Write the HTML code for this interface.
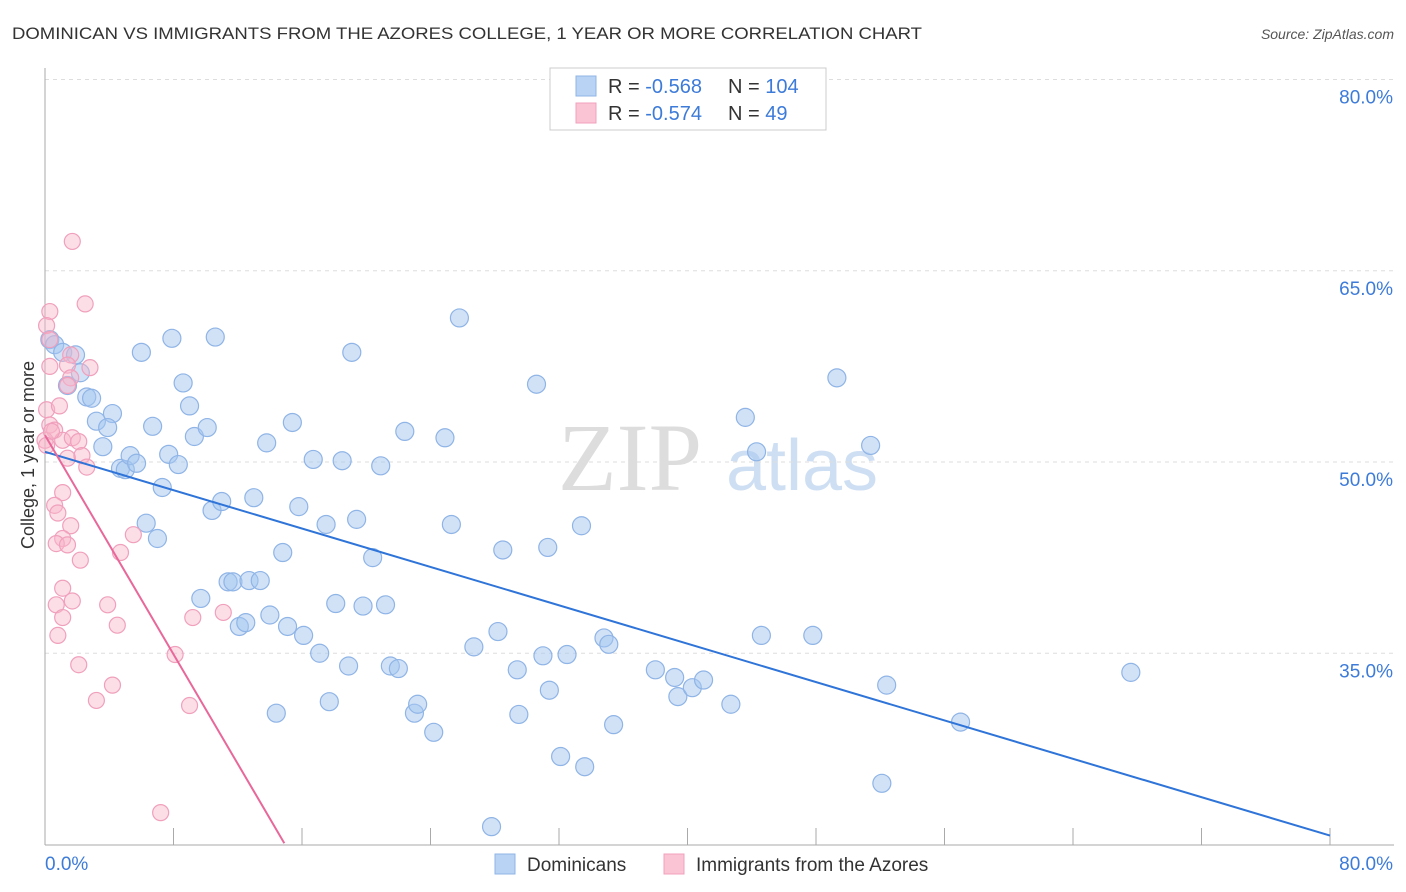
<!DOCTYPE html>
<html><head><meta charset="utf-8"><style>
body{margin:0;background:#fff;font-family:"Liberation Sans",sans-serif;}
#wrap{position:relative;width:1406px;height:892px;overflow:hidden;}
</style></head><body>
<div id="wrap">
<svg id="svg" width="1406" height="892" xmlns="http://www.w3.org/2000/svg">
<text x="12" y="39" font-size="17" fill="#333" textLength="910" lengthAdjust="spacingAndGlyphs">DOMINICAN VS IMMIGRANTS FROM THE AZORES COLLEGE, 1 YEAR OR MORE CORRELATION CHART</text>
<text x="1394" y="39" font-size="14" fill="#555" font-style="italic" text-anchor="end">Source: ZipAtlas.com</text>
<text x="630" y="490" font-size="96" fill="#ddd" font-family="Liberation Serif,serif" text-anchor="middle">ZIP</text>
<text x="802" y="490" font-size="72" fill="#cfdff3" text-anchor="middle">atlas</text>
<g id="grid"></g><g id="axes"></g><g id="pts"></g><g id="lines"></g>
<text transform="translate(34,455) rotate(-90)" font-size="18" fill="#333" text-anchor="middle">College, 1 year or more</text>
<g>
<rect x="550" y="68" width="276" height="62" fill="#fff" stroke="#ccc"/>
<rect x="576" y="76" width="20" height="20" fill="#b9d3f5" stroke="#8fb4e6"/>
<rect x="576" y="103" width="20" height="20" fill="#fac4d4" stroke="#f0a0bc"/>
<text x="608" y="93" font-size="20" fill="#333">R = <tspan fill="#3d7bd9">-0.568</tspan></text>
<text x="728" y="93" font-size="20" fill="#333">N = <tspan fill="#3d7bd9">104</tspan></text>
<text x="608" y="120" font-size="20" fill="#333">R = <tspan fill="#3d7bd9">-0.574</tspan></text>
<text x="728" y="120" font-size="20" fill="#333">N = <tspan fill="#3d7bd9"> 49</tspan></text>
</g>
<g>
<rect x="495" y="854" width="20" height="20" fill="#b9d3f5" stroke="#8fb4e6"/>
<text x="527" y="871" font-size="19" fill="#333">Dominicans</text>
<rect x="664" y="854" width="20" height="20" fill="#fac4d4" stroke="#f0a0bc"/>
<text x="696" y="871" font-size="19" fill="#333">Immigrants from the Azores</text>
</g>
</svg>
</div>
<script>
const blueX=[0.3,0.6,1.1,1.9,1.4,2.2,2.6,2.9,3.2,4.2,3.6,3.9,4.7,5.0,5.3,5.7,6.0,6.7,6.3,7.0,7.3,7.7,7.9,8.3,8.6,9.0,9.3,10.1,10.6,9.7,10.4,11.0,11.4,11.7,12.1,12.5,12.7,13.0,13.4,13.8,14.0,14.4,14.8,15.1,15.4,15.8,16.1,16.7,17.1,17.5,17.7,18.1,18.5,18.9,19.1,19.4,19.8,20.4,20.9,21.2,21.5,22.0,22.4,23.0,23.2,24.2,24.9,25.3,25.8,26.7,27.8,28.2,28.5,29.4,29.5,30.6,31.0,31.3,31.4,32.1,32.5,33.4,33.6,34.8,35.1,35.4,38.0,39.2,39.4,40.3,41.0,42.7,43.6,44.3,44.6,47.8,49.3,51.4,52.1,52.4,57.0,67.6];
const blueY=[59.6,59.2,58.6,58.4,56.0,57.0,55.1,55.0,53.2,53.8,51.2,52.7,49.5,49.4,50.5,49.9,58.6,52.8,45.2,44.0,48.0,50.6,59.7,49.8,56.2,54.4,52.0,52.7,59.8,39.3,46.2,46.9,40.6,40.6,37.1,37.4,40.7,47.2,40.7,51.5,38.0,30.3,42.9,37.1,53.1,46.5,36.4,50.2,35.0,45.1,31.2,38.9,50.1,34.0,58.6,45.5,38.7,42.5,49.7,38.8,34.0,33.8,52.4,30.3,31.0,28.8,51.9,45.1,61.3,35.5,21.4,36.7,43.1,33.7,30.2,56.1,34.8,43.3,32.1,26.9,34.9,45.0,26.1,36.2,35.7,29.4,33.7,33.1,31.6,32.3,32.9,31.0,53.5,50.8,36.4,36.4,56.6,51.3,24.8,32.5,29.6,33.5];
const pinkX=[1.7,2.5,0.3,0.1,0.3,0.3,1.6,1.4,2.8,1.6,1.4,0.1,0.9,0.3,0.6,0.0,1.1,1.7,2.1,1.4,2.3,2.6,1.1,0.6,0.8,1.6,1.1,0.7,1.4,2.2,4.7,5.5,1.1,0.7,1.7,3.9,1.1,4.5,9.2,0.8,11.1,2.1,8.1,4.2,3.2,9.0,7.2,0.4,0.1];
const pinkY=[67.3,62.4,61.8,60.7,59.6,57.5,58.4,57.6,57.4,56.6,56.0,54.1,54.4,52.9,52.5,51.7,51.7,51.9,51.6,50.3,50.5,49.6,47.6,46.6,46.0,45.0,44.0,43.6,43.5,42.3,42.9,44.3,40.1,38.8,39.1,38.8,37.8,37.2,37.8,36.4,38.2,34.1,34.9,32.5,31.3,30.9,22.5,52.4,51.3];
const blueTrend=[50.8,20.7];
const pinkTrend=[52.1,20.1];
const pinkTrendEndX=14.9;
const yTicks=[80,65,50,35];
const xTickVals=[0,8,16,24,32,40,48,56,64,72,80];

const X0=45,X1=1330,Y50=462,PY=12.75;
const sx=v=>X0+(X1-X0)*v/80;
const sy=v=>Y50-(v-50)*PY;
const NS="http://www.w3.org/2000/svg";
function mk(t,a,parent){const e=document.createElementNS(NS,t);for(const k in a)e.setAttribute(k,a[k]);document.getElementById(parent).appendChild(e);return e;}

yTicks.forEach(v=>{
  const l=mk('line',{x1:45,x2:1394,y1:sy(v),y2:sy(v),stroke:'#ddd','stroke-dasharray':'4,4'},'grid');
  
  
  const t=mk('text',{x:1393,y:sy(v)+24,'font-size':19,fill:'#3d7bd9','text-anchor':'end'},'grid');
  t.textContent=v.toFixed(1)+'%';
  
  
});
const ya=mk('line',{x1:45,x2:45,y1:68,y2:845,stroke:'#aaa'},'axes');


const xa=mk('line',{x1:45,x2:1394,y1:845,y2:845,stroke:'#aaa'},'axes');


xTickVals.forEach(v=>{
  const l=mk('line',{x1:sx(v),x2:sx(v),y1:828,y2:845,stroke:'#aaa'},'axes');
  
  
});
const tl=mk('text',{x:45,y:870,'font-size':19,fill:'#3d7bd9'},'axes');tl.textContent='0.0%';


const tr=mk('text',{x:1393,y:870,'font-size':19,fill:'#3d7bd9','text-anchor':'end'},'axes');tr.textContent='80.0%';



blueX.forEach((x,i)=>{
  const c=mk('circle',{cx:sx(x),cy:sy(blueY[i]),r:9,fill:'rgba(164,198,240,0.5)',stroke:'#8fb4e6','stroke-width':1.2},'pts');
  
  
});
pinkX.forEach((x,i)=>{
  const c=mk('circle',{cx:sx(x),cy:sy(pinkY[i]),r:8,fill:'rgba(248,182,202,0.45)',stroke:'#f0a0bc','stroke-width':1.2},'pts');
  
  
});
const bl=mk('line',{x1:sx(0),y1:sy(blueTrend[0]),x2:sx(80),y2:sy(blueTrend[1]),stroke:'#2f74d8','stroke-width':2},'lines');


const pl=mk('line',{x1:sx(0),y1:sy(pinkTrend[0]),x2:sx(pinkTrendEndX),y2:sy(pinkTrend[1]),stroke:'#e8689a','stroke-width':2},'lines');


</script>
</body></html>
